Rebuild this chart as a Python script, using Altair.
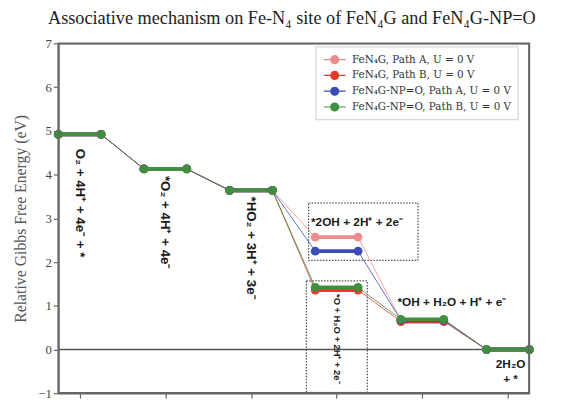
import altair as alt
import pandas as pd

# ---- data ----
level_x = [0, 1, 2, 3, 4, 5]
series_names = [
    "FeN\u2084G, Path A, U = 0 V",
    "FeN\u2084G, Path B, U = 0 V",
    "FeN\u2084G-NP=O, Path A, U = 0 V",
    "FeN\u2084G-NP=O, Path B, U = 0 V",
]
series_colors = ["#ec8c8c", "#e8392e", "#3b4db3", "#3f8f3f"]
fen4g_path_a = [4.92, 4.13, 3.64, 2.57, 0.67, 0.0]
fen4g_path_b = [4.92, 4.13, 3.64, 1.36, 0.64, 0.0]
np_path_a = [4.92, 4.13, 3.64, 2.25, 0.67, 0.0]
np_path_b = [4.92, 4.13, 3.64, 1.42, 0.69, 0.0]
all_series = [fen4g_path_a, fen4g_path_b, np_path_a, np_path_b]
half_width = 0.25
x_domain = [-0.25, 5.25]
y_domain = [-1, 7]
frame_x = [-0.245, 5.245]
frame_y = [-0.99, 6.99]

label_texts = [
    "O\u2082 + 4H\u207a + 4e\u207b + *",
    "*O\u2082 + 4H\u207a + 4e\u207b",
    "*HO\u2082 + 3H\u207a + 3e\u207b",
]
label_x = [0, 1, 2]
label_y = [4.59, 3.97, 3.50]

small_label = ["*O + H\u2082O + 2H\u207a + 2e\u207b"]
small_label_x = [3]
small_label_y = [1.27]

hlabel_texts = ["*2OH + 2H\u207a + 2e\u207b", "*OH + H\u2082O + H\u207a + e\u207b"]
hlabel_x = [2.70, 3.71]
hlabel_y = [2.92, 1.09]

end_texts = ["2H\u2082O", "+ *"]
end_x = [5.03, 5.03]
end_y = [-0.34, -0.68]

box_x1 = [2.673, 2.646]
box_x2 = [3.95, 3.357]
box_y1 = [2.04, -0.98]
box_y2 = [3.35, 1.57]

# ---- tables ----
rows = []
for name, vals in zip(series_names, all_series):
    for i, (lx, v) in enumerate(zip(level_x, vals)):
        rows.append({"series": name, "x": lx - half_width, "y": v, "ord": 2 * i})
        rows.append({"series": name, "x": lx + half_width, "y": v, "ord": 2 * i + 1})
pts = pd.DataFrame(rows)

segs = pd.DataFrame([
    {"series": name, "xl": lx - half_width, "xr": lx + half_width, "y": v}
    for name, vals in zip(series_names, all_series)
    for lx, v in zip(level_x, vals)
])

xs = alt.Scale(domain=x_domain, nice=False, zero=False)
ys = alt.Scale(domain=y_domain, nice=False, zero=False)
cs = alt.Scale(domain=series_names, range=series_colors)

x_axis = alt.Axis(values=level_x, labels=False, title=None, grid=False, domain=True,
                  domainColor="#666", domainWidth=1.6,
                  tickColor="#666", tickSize=5, tickWidth=1.2)
y_axis = alt.Axis(values=list(range(-1, 8)), title="Relative Gibbs Free Energy (eV)",
                  grid=False, domain=True, domainColor="#666", domainWidth=1.6,
                  tickColor="#666", tickSize=5,
                  tickWidth=1.2, labelFont="Liberation Serif", labelFontSize=13,
                  labelColor="#444", titleFont="Liberation Serif",
                  titleFontSize=16, titleFontWeight="normal",
                  titleColor="#555", titlePadding=9)

sym_path = "M-1.7,0L1.7,0M-0.62,0A0.62,0.62 0 1,0 0.62,0A0.62,0.62 0 1,0 -0.62,0Z"
leg = alt.Legend(title=None, orient="none", legendX=261, legendY=3,
                 symbolType=sym_path, symbolSize=169, symbolStrokeWidth=1.2,
                 symbolOpacity=1, symbolOffset=6,
                 labelFont="DejaVu Serif", labelFontSize=10.5, labelLimit=300,
                 labelColor="#333", strokeColor="#ccc", fillColor="white",
                 padding=6, rowPadding=2, labelOffset=10)

zero_df = pd.DataFrame({"zy": [0]})
zero = alt.Chart(zero_df).mark_rule(color="#555", strokeWidth=1.5).encode(
    y=alt.Y("zy:Q", scale=ys, axis=y_axis))

boxes_df = pd.DataFrame({"x1": box_x1, "x2": box_x2, "y1": box_y1, "y2": box_y2})
boxes = alt.Chart(boxes_df).mark_rect(fill=None, filled=False, stroke="#222", strokeWidth=1,
                                      strokeDash=[1.5, 1.5]).encode(
    x=alt.X("x1:Q", scale=xs, axis=x_axis), x2="x2:Q", y=alt.Y("y1:Q", scale=ys), y2="y2:Q")

connectors = alt.Chart(pts).mark_line(strokeWidth=1, opacity=0.8).encode(
    x=alt.X("x:Q", scale=xs), y=alt.Y("y:Q", scale=ys),
    stroke=alt.Stroke("series:N", scale=cs, sort=series_names, legend=leg), order="ord:Q")

levels = alt.Chart(segs).mark_rule(strokeWidth=4).encode(
    x=alt.X("xl:Q", scale=xs), x2="xr:Q", y=alt.Y("y:Q", scale=ys),
    stroke=alt.Stroke("series:N", scale=cs, sort=series_names, legend=leg))

points = alt.Chart(pts).mark_point(filled=True, size=80, opacity=1, strokeWidth=0.01).encode(
    x=alt.X("x:Q", scale=xs), y=alt.Y("y:Q", scale=ys),
    fill=alt.Fill("series:N", scale=cs, sort=series_names, legend=leg),
    stroke=alt.Stroke("series:N", scale=cs, sort=series_names, legend=leg))

vlab = alt.Chart(pd.DataFrame({"t": label_texts, "x": label_x, "y": label_y})).mark_text(
    angle=90, align="left", baseline="middle", font="Liberation Sans", fontWeight="bold",
    fontSize=13.5, color="#1a1a1a").encode(
    x=alt.X("x:Q", scale=xs), y=alt.Y("y:Q", scale=ys), text="t:N")

slab = alt.Chart(pd.DataFrame({"t": small_label, "x": small_label_x, "y": small_label_y})).mark_text(
    angle=90, align="left", baseline="middle", font="Liberation Sans", fontWeight="bold",
    fontSize=9.5, color="#1a1a1a").encode(
    x=alt.X("x:Q", scale=xs), y=alt.Y("y:Q", scale=ys), text="t:N")

hlab = alt.Chart(pd.DataFrame({"t": hlabel_texts, "x": hlabel_x, "y": hlabel_y})).mark_text(
    align="left", baseline="middle", font="Liberation Sans", fontWeight="bold",
    fontSize=12, color="#1a1a1a").encode(
    x=alt.X("x:Q", scale=xs), y=alt.Y("y:Q", scale=ys), text="t:N")

elab = alt.Chart(pd.DataFrame({"t": end_texts, "x": end_x, "y": end_y})).mark_text(
    align="center", baseline="middle", font="Liberation Sans", fontWeight="bold",
    fontSize=12, color="#1a1a1a").encode(
    x=alt.X("x:Q", scale=xs), y=alt.Y("y:Q", scale=ys), text="t:N")

# frame lines along the plot edges (drawn last)
hframe = alt.Chart(pd.DataFrame({"fy": frame_y})).mark_rule(color="#666", strokeWidth=1.6).encode(
    y=alt.Y("fy:Q", scale=ys))
vframe = alt.Chart(pd.DataFrame({"fx": frame_x})).mark_rule(color="#666", strokeWidth=1.6).encode(
    x=alt.X("fx:Q", scale=xs))

chart = alt.layer(zero, boxes, connectors, levels, points,
                  vlab, slab, hlab, elab, hframe, vframe).properties(
    width=478, height=355,
    padding={"left": 51, "top": 33, "right": 27, "bottom": 11},
    autosize=alt.AutoSizeParams(type="none"),
    background="white",
    title=alt.Title("Associative mechanism on Fe-N\u2084 site of FeN\u2084G and FeN\u2084G-NP=O",
                    font="Liberation Serif", fontSize=18.5, fontWeight="normal", color="#222",
                    offset=10, anchor="middle", dx=-2),
).configure_view(stroke="#666", strokeWidth=1.6)

chart.save("out.html", embed_options={"renderer": "svg", "actions": False})
